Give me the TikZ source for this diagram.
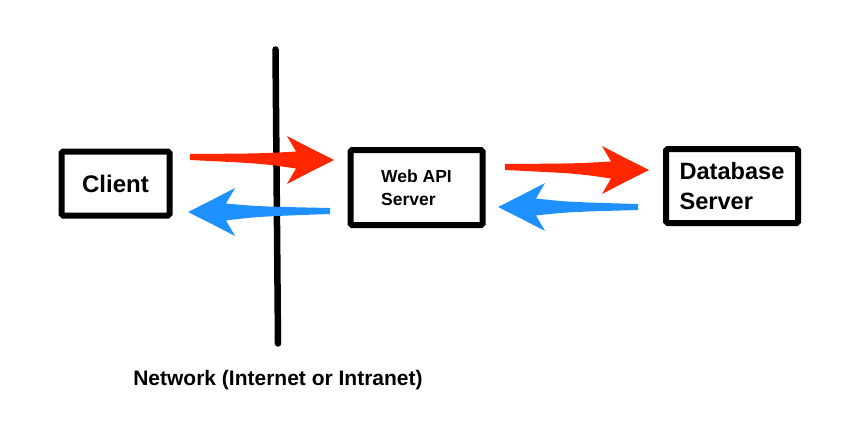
\documentclass[tikz,border=0pt]{standalone}
\usepackage{fontspec}
\setsansfont{Liberation Sans}
\usepackage{tikz}
\usetikzlibrary{calc}

\definecolor{reqred}{RGB}{255,38,0}
\definecolor{resblue}{RGB}{30,144,255}

% tapered arrow: style, tail, tip, direction (1 right, -1 left)
\newcommand{\fatarrow}[4]{%
  \fill[#1] ($(#2)+(0,-3)$) .. controls ($(#2)!0.5!(#3)+(0,-5)$) .. ($(#3)+({-(#4)*38},-8.5)$)
    -- ($(#3)+({-(#4)*47},-24)$) .. controls ($(#3)+({-(#4)*22},-11)$) .. (#3)
    .. controls ($(#3)+({-(#4)*22},11)$) .. ($(#3)+({-(#4)*47},24)$)
    -- ($(#3)+({-(#4)*38},8.5)$) .. controls ($(#2)!0.5!(#3)+(0,5)$) .. ($(#2)+(0,3)$) -- cycle;}

\begin{document}
\begin{tikzpicture}[x=1pt,y=-1pt,
                    main node/.style={draw,line width=6pt,rounded corners=1.5pt,inner sep=0pt,
                                      font=\sffamily\bfseries},
                    req/.style={fill=reqred},
                    res/.style={fill=resblue}]
  \useasboundingbox (0,0) rectangle (854,431);

  \node[main node,minimum width=108pt,minimum height=64pt,font=\sffamily\bfseries\fontsize{24}{28}\selectfont]
    (1) at (115.5,183.5) {Client};
  \node[main node,minimum width=132pt,minimum height=75pt,align=left,
        font=\sffamily\bfseries\fontsize{17.5}{23}\selectfont]
    (2) [right of=1,node distance=301pt,yshift=-4pt] {Web API\\Server};
  \node[main node,minimum width=132pt,minimum height=74pt,align=left,
        font=\sffamily\bfseries\fontsize{23.6}{30}\selectfont]
    (3) [right of=2,node distance=315.5pt,yshift=1.5pt] {Database\\Server};

  % network boundary
  \coordinate (top) at (275.5,49.5);
  \coordinate (bot) at (278,343.5);
  \draw[line width=6.5pt,line cap=round] (top) -- (bot);
  \node[anchor=base,font=\sffamily\bfseries\fontsize{21}{25}\selectfont] (net) at (278,385)
    {Network (Internet or Intranet)};

  % requests and responses
  \coordinate (r1) at (190,157);  \coordinate (r1t) at (334,160);
  \coordinate (r2) at (505,167);  \coordinate (r2t) at (649,170);
  \coordinate (b1) at (330,211);  \coordinate (b1t) at (188,212);
  \coordinate (b2) at (638,207);  \coordinate (b2t) at (498,207);
  \fatarrow{req}{r1}{r1t}{1}
  \fatarrow{req}{r2}{r2t}{1}
  \fatarrow{res}{b1}{b1t}{-1}
  \fatarrow{res}{b2}{b2t}{-1}
\end{tikzpicture}
\end{document}
